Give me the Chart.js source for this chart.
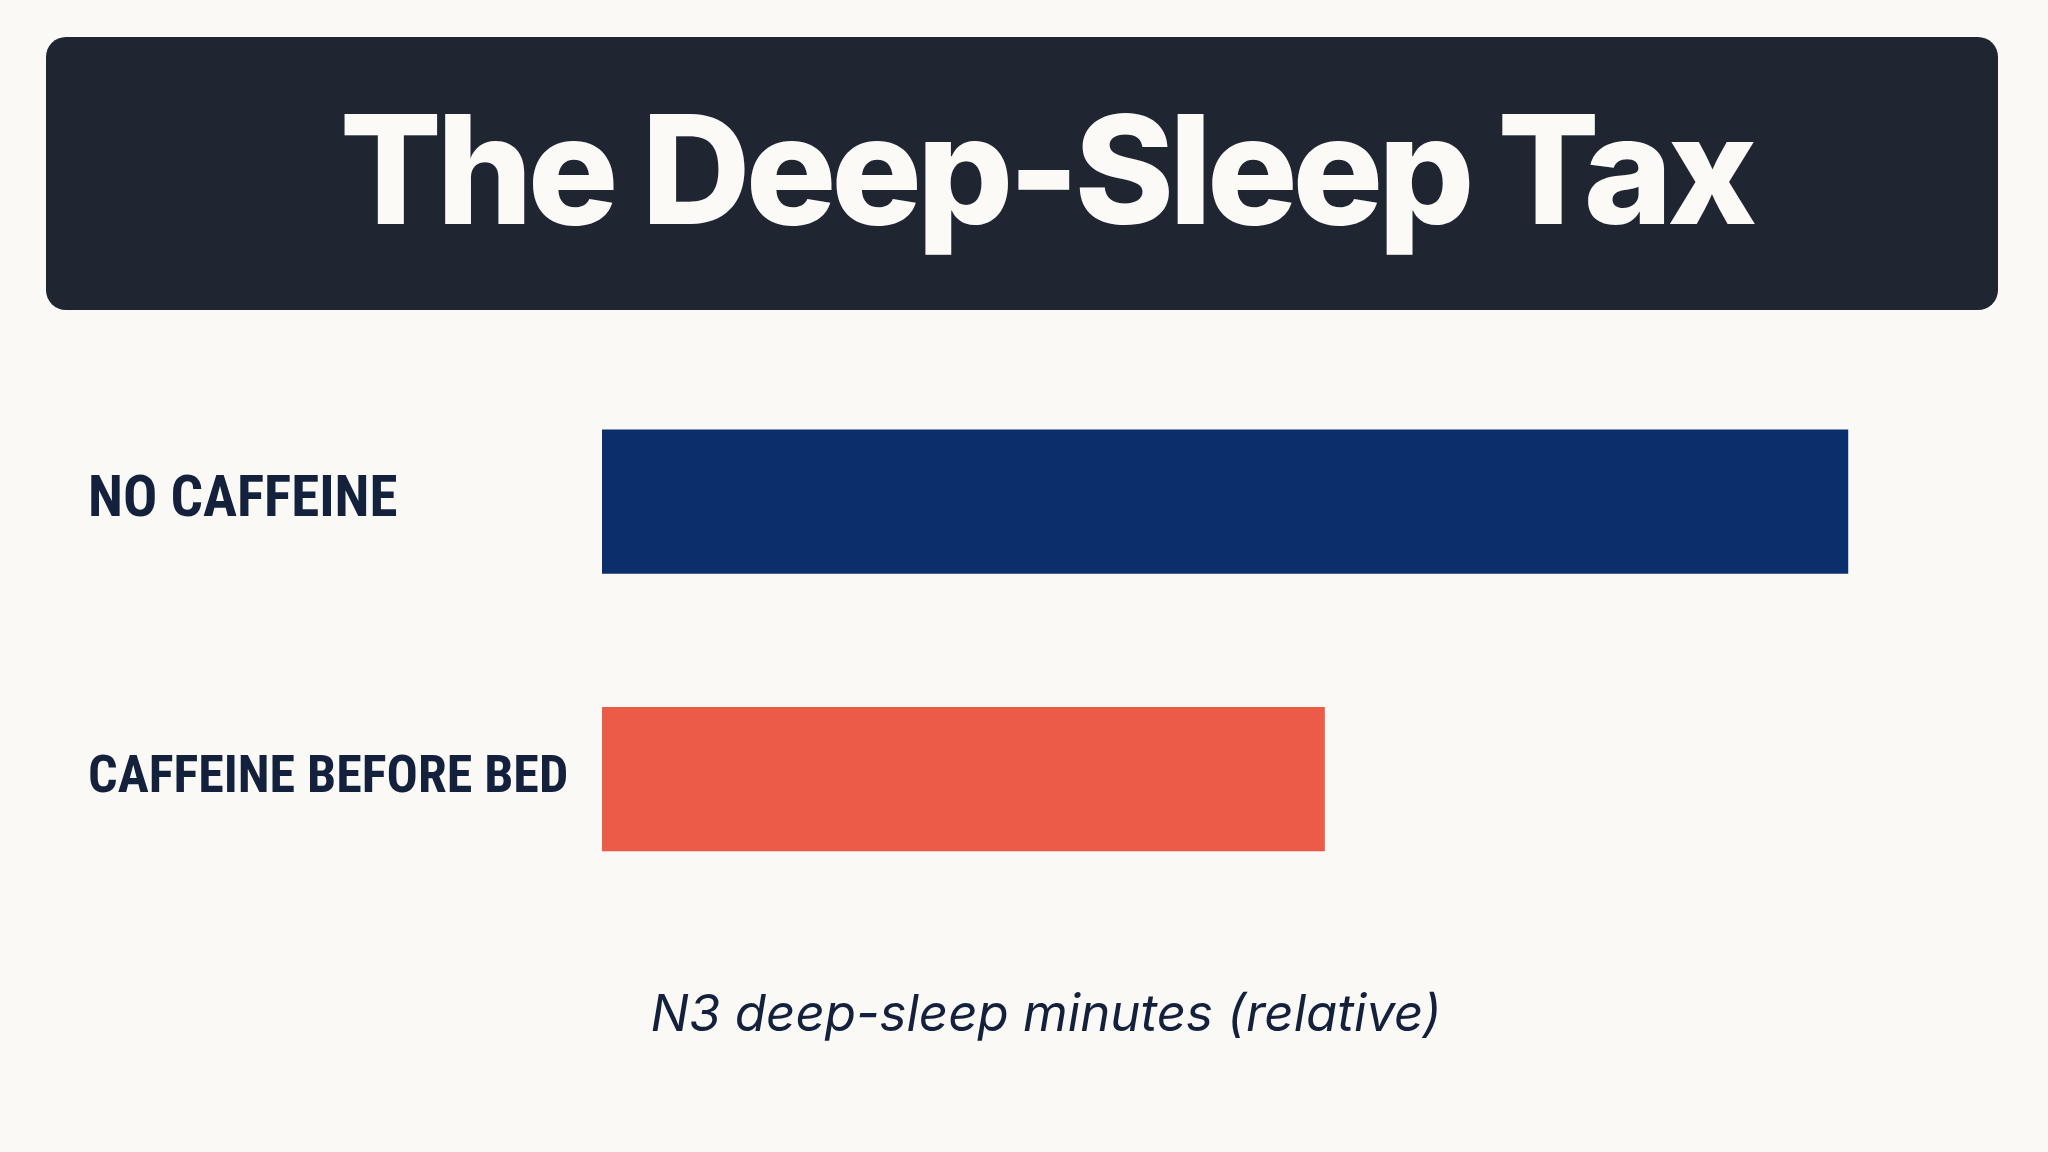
<!DOCTYPE html>
<html>
<head>
<meta charset="utf-8">
<script src="https://cdn.jsdelivr.net/npm/chart.js@4"></script>
<style>
  html, body { margin: 0; padding: 0; background: #faf9f6; }
  body { width: 2048px; height: 1152px; position: relative; overflow: hidden; }
  #title-box {
    position: absolute; left: 46px; top: 37px; width: 1952px; height: 273px;
    background: #1f2631; border-radius: 20px;
    display: flex; align-items: center; justify-content: center;
    box-sizing: border-box; padding-left: 48px; padding-bottom: 10px;
    font-family: Inter, 'Noto Sans', sans-serif; font-weight: 800;
    font-size: 151px; color: #fbfaf7; letter-spacing: -5px;
  }
  #wrap { position: absolute; left: 0; top: 0; width: 2048px; height: 1152px; }
</style>
</head>
<body>
<div id="wrap"><canvas id="chart"></canvas></div>
<div id="title-box">The Deep-Sleep Tax</div>
<script>
document.addEventListener('DOMContentLoaded', function () {

    // data (relative minutes, no-caffeine = 100)
    const categories = ['NO CAFFEINE', 'CAFFEINE BEFORE BED'];
    const deepSleep  = [100, 58];
    const barColors  = ['#0b2f6b', '#ec5a48'];
    const axisTitle  = 'N3 deep-sleep minutes (relative)';
    const axisMax    = 112.5;   // leaves empty room right of the longest bar

    const ink = '#14213d';
    const labelFont = "'Roboto Condensed', 'Liberation Sans Narrow', 'DejaVu Sans Condensed', sans-serif";

    const ctx = document.getElementById('chart').getContext('2d');

    new Chart(ctx, {
        type: 'bar',
        data: {
            labels: categories,
            datasets: [{
                data: deepSleep,
                backgroundColor: barColors,
                borderWidth: 0,
                categoryPercentage: 1,
                barPercentage: 0.52
            }]
        },
        options: {
            indexAxis: 'y',
            responsive: true,
            maintainAspectRatio: false,
            animation: false,
            layout: { padding: { top: 363, right: 44, bottom: 106, left: 88 } },
            scales: {
                x: {
                    min: 0,
                    max: axisMax,
                    grid: { display: false },
                    border: { display: false },
                    ticks: { display: false },
                    afterFit: s => { s.height = 0; }
                },
                y: {
                    grid: { display: false },
                    border: { display: false },
                    ticks: {
                        color: ink,
                        crossAlign: 'far',
                        padding: 0,
                        // the long label is set a touch tighter so it clears the bar
                        font: c => ({ family: labelFont, size: c.index === 0 ? 57 : 52, weight: 'bold' })
                    },
                    afterFit: s => { s.width = 514; }
                }
            },
            plugins: {
                legend: { display: false },
                tooltip: { enabled: false },
                // axis caption, drawn as a bottom title so it centres on the page
                title: {
                    display: true,
                    position: 'bottom',
                    text: axisTitle,
                    color: ink,
                    padding: { top: 67, bottom: 0 },
                    font: { family: "Inter, 'Open Sans', sans-serif", size: 51, style: 'italic', weight: 'normal', lineHeight: 1.2 }
                }
            }
        }
    });
});
</script>
</body>
</html>
